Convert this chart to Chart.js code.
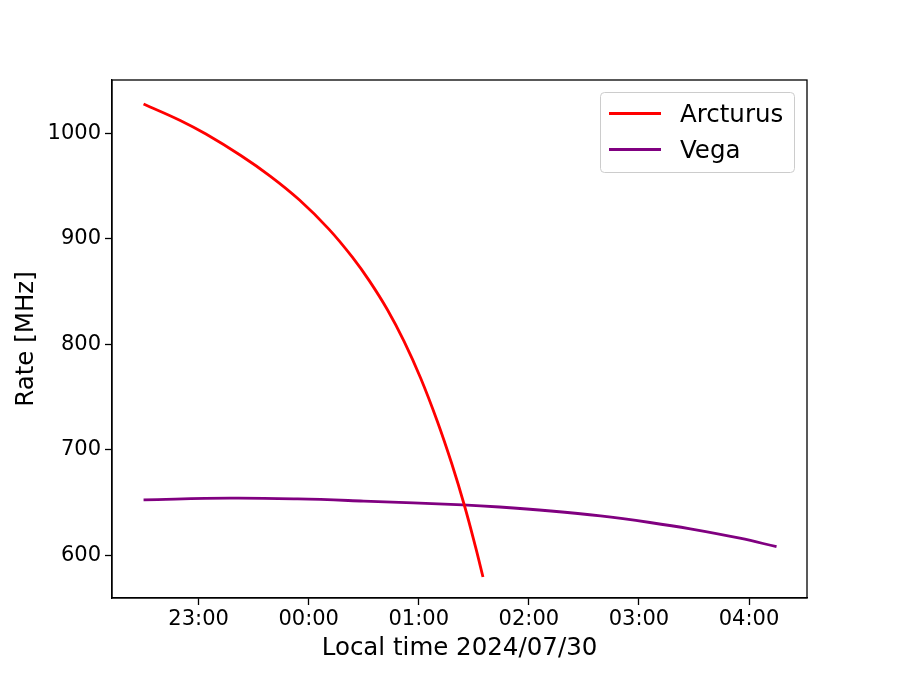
<!DOCTYPE html>
<html>
<head>
<meta charset="utf-8">
<script src="https://cdn.jsdelivr.net/npm/chart.js@4"></script>
<style>
  html, body { margin: 0; padding: 0; background: #fff; }
  canvas { display: block; }
</style>
</head>
<body>
<canvas id="chart" width="897" height="673"></canvas>
<script>
// time in minutes relative to local midnight of 2024/07/30
const arcturusMinutes = [-90, -70, -56, -37, -21, -5, 11, 24, 33, 43, 52, 61, 70, 78, 85, 91, 95];
const arcturusRate = [1027.7, 1012.1, 999.2, 978.9, 959.4, 936.7, 909.2, 882.2, 860.4, 832.6, 802.9, 768.2, 727.7, 686.9, 646.7, 607.7, 579.7];

const vegaMinutes = [-90, -43, -6, 30, 84, 104, 132, 159, 186, 208, 235, 255];
const vegaRate = [652.7, 654.3, 653.6, 651.6, 648.0, 646.0, 642.2, 637.5, 631.3, 625.3, 616.4, 608.4];

const xTickValues = [-60, 0, 60, 120, 180, 240];
const xTickLabels = ["23:00", "00:00", "01:00", "02:00", "03:00", "04:00"];
const yTickValues = [600, 700, 800, 900, 1000];

const FONT = "'DejaVu Sans', sans-serif";

function toPoints(xs, ys) {
  return xs.map((x, i) => ({ x: x, y: ys[i] }));
}

// top and right spines
const framePlugin = {
  id: "frame",
  afterDraw(chart) {
    const { ctx, chartArea: a } = chart;
    ctx.save();
    ctx.strokeStyle = "#000";
    ctx.lineWidth = 1.3;
    ctx.strokeRect(a.left, a.top, a.right - a.left, a.bottom - a.top);
    ctx.restore();
  }
};

// legend drawn inside the axes, upper right
const legendPlugin = {
  id: "innerLegend",
  afterDraw(chart) {
    const ctx = chart.ctx;
    const box = { x: 600.5, y: 92.5, w: 194, h: 80 };
    ctx.save();
    ctx.beginPath();
    ctx.roundRect(box.x, box.y, box.w, box.h, 4);
    ctx.fillStyle = "rgba(255,255,255,0.8)";
    ctx.fill();
    ctx.strokeStyle = "#cccccc";
    ctx.lineWidth = 1;
    ctx.stroke();
    ctx.font = "24.5px " + FONT;
    ctx.textBaseline = "alphabetic";
    ctx.fillStyle = "#000";
    chart.data.datasets.forEach((ds, i) => {
      const cy = 113.5 + i * 36;
      ctx.beginPath();
      ctx.moveTo(609, cy);
      ctx.lineTo(661, cy);
      ctx.strokeStyle = ds.borderColor;
      ctx.lineWidth = ds.borderWidth;
      ctx.stroke();
      ctx.fillText(ds.label, 680, cy + 8.5);
    });
    ctx.restore();
  }
};

new Chart(document.getElementById("chart"), {
  type: "line",
  data: {
    datasets: [
      {
        label: "Arcturus",
        data: toPoints(arcturusMinutes, arcturusRate),
        borderColor: "#ff0000",
        borderWidth: 2.8,
        pointRadius: 0,
        tension: 0.4,
        fill: false
      },
      {
        label: "Vega",
        data: toPoints(vegaMinutes, vegaRate),
        borderColor: "#800080",
        borderWidth: 2.8,
        pointRadius: 0,
        tension: 0.4,
        fill: false
      }
    ]
  },
  options: {
    responsive: false,
    animation: false,
    devicePixelRatio: 1,
    layout: { padding: { left: 0, top: 80, right: 90, bottom: 0 } },
    plugins: { legend: { display: false }, tooltip: { enabled: false } },
    scales: {
      x: {
        type: "linear",
        min: -107.2,
        max: 271.6,
        afterFit: s => { s.height = 75; },
        afterBuildTicks: s => { s.ticks = xTickValues.map(v => ({ value: v })); },
        ticks: {
          color: "#000",
          font: { family: FONT, size: 21 },
          padding: 2,
          maxRotation: 0,
          autoSkip: false,
          callback: v => xTickLabels[xTickValues.indexOf(v)]
        },
        grid: { drawOnChartArea: false, tickLength: 7, tickColor: "#000", tickWidth: 1.3 },
        border: { display: true, color: "#000", width: 1.3 },
        title: {
          display: true,
          text: "Local time 2024/07/30",
          color: "#000",
          font: { family: FONT, size: 24.5 },
          padding: { top: 0, bottom: 10 }
        }
      },
      y: {
        type: "linear",
        min: 559.8,
        max: 1050.4,
        afterFit: s => { s.width = 112; },
        afterBuildTicks: s => { s.ticks = yTickValues.map(v => ({ value: v })); },
        ticks: {
          color: "#000",
          font: { family: FONT, size: 21 },
          padding: 4,
          callback: v => String(v)
        },
        grid: { drawOnChartArea: false, tickLength: 7, tickColor: "#000", tickWidth: 1.3 },
        border: { display: true, color: "#000", width: 1.3 },
        title: {
          display: true,
          text: "Rate [MHz]",
          color: "#000",
          font: { family: FONT, size: 24.5 },
          padding: { top: 12, bottom: 0 }
        }
      }
    }
  },
  plugins: [framePlugin, legendPlugin]
});
</script>
</body>
</html>
